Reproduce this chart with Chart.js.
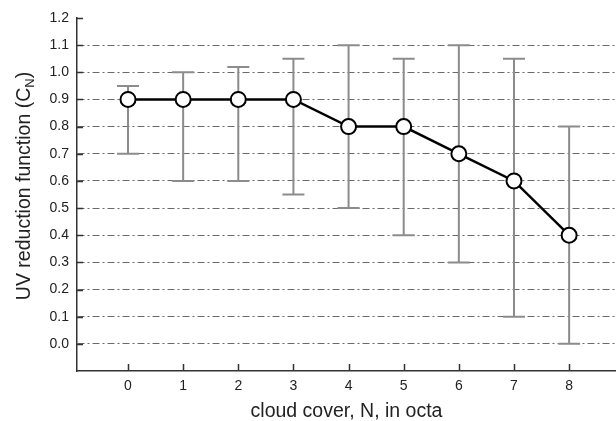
<!DOCTYPE html>
<html>
<head>
<meta charset="utf-8">
<script src="https://cdn.jsdelivr.net/npm/chart.js@4/dist/chart.umd.min.js"></script>
<style>
  body { margin: 0; background: #fff; }
  #wrap { width: 616px; height: 421px; }
</style>
</head>
<body>
<div id="wrap"><canvas id="cnChart" width="616" height="421"></canvas></div>
<script>
// cloud cover classes (octa) and the reduction function C_N
const cloudCover = [0, 1, 2, 3, 4, 5, 6, 7, 8];
const cnValues = [0.9, 0.9, 0.9, 0.9, 0.8, 0.8, 0.7, 0.6, 0.4];
// spread of C_N for each class
const cnUpper = [0.95, 1.0, 1.02, 1.05, 1.1, 1.05, 1.1, 1.05, 0.8];
const cnLower = [0.7, 0.6, 0.6, 0.55, 0.5, 0.4, 0.3, 0.1, 0.0];
const yTicks = [0, 0.1, 0.2, 0.3, 0.4, 0.5, 0.6, 0.7, 0.8, 0.9, 1.0, 1.1, 1.2];

const fontFamily = '"Liberation Sans", Arial, sans-serif';
const axisColor = '#333';
const textColor = '#222';

// whiskers behind the line
const errorBars = {
    id: 'errorBars',
    beforeDatasetsDraw(chart) {
        const { ctx, scales: { x, y } } = chart;
        ctx.save();
        ctx.strokeStyle = '#8c8c8c';
        ctx.lineWidth = 2;
        cloudCover.forEach((c, i) => {
            const px = x.getPixelForValue(c);
            const top = y.getPixelForValue(cnUpper[i]);
            const bot = y.getPixelForValue(cnLower[i]);
            ctx.beginPath();
            ctx.moveTo(px, top); ctx.lineTo(px, bot);
            ctx.moveTo(px - 11, top); ctx.lineTo(px + 11, top);
            ctx.moveTo(px - 11, bot); ctx.lineTo(px + 11, bot);
            ctx.stroke();
        });
        ctx.restore();
    }
};

// inward tick marks and both axis titles
const axisExtras = {
    id: 'axisExtras',
    afterDraw(chart) {
        const { ctx, scales: { x, y }, chartArea } = chart;
        ctx.save();
        ctx.strokeStyle = axisColor;
        ctx.lineWidth = 1.5;
        ctx.beginPath();
        yTicks.forEach(v => {
            const py = Math.round(y.getPixelForValue(v)) + 0.5;
            ctx.moveTo(chartArea.left, py);
            ctx.lineTo(chartArea.left + 6, py);
        });
        cloudCover.forEach(c => {
            const px = Math.round(x.getPixelForValue(c)) + 0.5;
            ctx.moveTo(px, chartArea.bottom);
            ctx.lineTo(px, chartArea.bottom - 7);
        });
        ctx.stroke();

        ctx.fillStyle = textColor;
        const big = '19.5px ' + fontFamily;
        const small = '13px ' + fontFamily;

        // x title
        ctx.font = big;
        ctx.textAlign = 'center';
        ctx.textBaseline = 'alphabetic';
        ctx.fillText('cloud cover, N, in octa', (chartArea.left + chartArea.right) / 2, 417);

        // y title, C with subscript N
        ctx.textAlign = 'left';
        ctx.translate(30, 186);
        ctx.rotate(-Math.PI / 2);
        const main = 'UV reduction function (C';
        const sub = 'N';
        const end = ')';
        ctx.font = big;
        const w1 = ctx.measureText(main).width;
        const w3 = ctx.measureText(end).width;
        ctx.font = small;
        const w2 = ctx.measureText(sub).width;
        const sx = -(w1 + w2 + w3) / 2;
        ctx.font = big;
        ctx.fillText(main, sx, 0);
        ctx.font = small;
        ctx.fillText(sub, sx + w1, 4);
        ctx.font = big;
        ctx.fillText(end, sx + w1 + w2, 0);
        ctx.restore();
    }
};

new Chart(document.getElementById('cnChart'), {
    type: 'line',
    data: {
        datasets: [{
            data: cloudCover.map((c, i) => ({ x: c, y: cnValues[i] })),
            borderColor: '#000',
            borderWidth: 2.5,
            pointRadius: 7.5,
            pointBorderWidth: 2,
            pointBackgroundColor: '#fff',
            pointBorderColor: '#000',
            tension: 0
        }]
    },
    options: {
        responsive: false,
        animation: false,
        layout: { autoPadding: false, padding: { top: 18, right: 0, left: 0, bottom: 0 } },
        plugins: { legend: { display: false }, tooltip: { enabled: false } },
        scales: {
            x: {
                type: 'linear',
                min: -0.925,
                max: 8.85,
                afterBuildTicks: s => { s.ticks = cloudCover.map(v => ({ value: v })); },
                afterFit: s => { s.height = 50; s.paddingLeft = 0; s.paddingRight = 0; },
                grid: { display: false, drawTicks: false },
                border: { color: axisColor, width: 1.5 },
                ticks: {
                    padding: 7,
                    color: textColor,
                    font: { family: fontFamily, size: 14 }
                }
            },
            y: {
                min: -0.1,
                max: 1.2,
                afterBuildTicks: s => { s.ticks = yTicks.map(v => ({ value: v })); },
                afterFit: s => { s.width = 77; s.paddingTop = 0; s.paddingBottom = 0; },
                grid: {
                    drawTicks: false,
                    color: ctx => (ctx.tick && ctx.tick.value > 1.15) ? 'rgba(0,0,0,0)' : '#6a6a6a',
                    lineWidth: 1
                },
                border: { color: axisColor, width: 1.5, dash: [7, 3, 2, 3] },
                ticks: {
                    padding: 8,
                    color: textColor,
                    font: { family: fontFamily, size: 14 },
                    callback: v => v.toFixed(1)
                }
            }
        }
    },
    plugins: [errorBars, axisExtras]
});
</script>
</body>
</html>
